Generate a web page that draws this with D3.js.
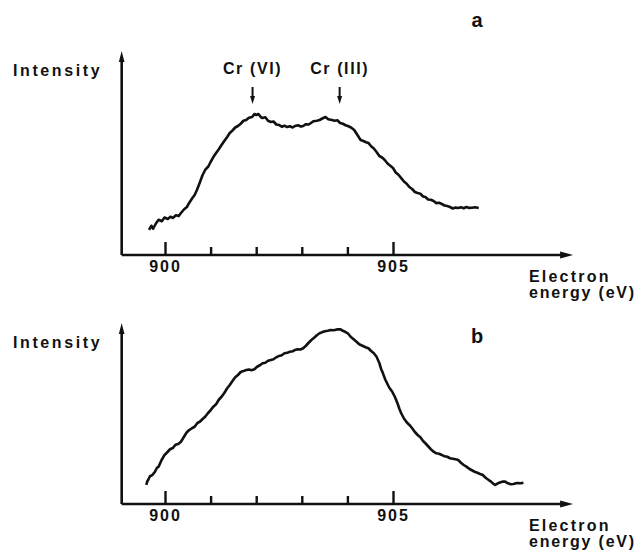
<!DOCTYPE html>
<html>
<head>
<meta charset="utf-8">
<script src="https://cdn.jsdelivr.net/npm/d3@7"></script>
<style>
  body { margin: 0; background: #fff; }
  svg text { font-family: "Liberation Sans", Arial, sans-serif; font-weight: bold; fill: #111; }
</style>
</head>
<body>
<svg width="642" height="555"></svg>
<script>
// spectrum a : Cr L3 edge, mixed Cr(VI)/Cr(III)
var energyA = [899.65,899.70,899.74,899.80,899.86,899.93,899.99,900.06,900.12,900.17,900.24,900.30,900.35,900.42,900.48,900.53,900.60,900.65,900.70,900.76,900.82,900.88,900.95,901.00,901.06,901.12,901.18,901.24,901.30,901.36,901.42,901.48,901.54,901.60,901.66,901.72,901.78,901.84,901.91,901.96,902.00,902.05,902.10,902.14,902.20,902.26,902.32,902.38,902.44,902.50,902.56,902.62,902.68,902.74,902.80,902.85,902.92,902.98,903.03,903.09,903.15,903.20,903.26,903.33,903.39,903.45,903.52,903.58,903.66,903.72,903.78,903.84,903.90,903.96,904.01,904.08,904.15,904.22,904.29,904.35,904.41,904.46,904.52,904.58,904.64,904.70,904.76,904.82,904.88,904.94,905.00,905.06,905.12,905.18,905.24,905.30,905.36,905.42,905.48,905.54,905.60,905.66,905.71,905.77,905.83,905.89,905.95,906.01,906.07,906.13,906.19,906.25,906.31,906.37,906.43,906.49,906.55,906.61,906.67,906.73,906.80,906.88];
var intensityA = [16.7,19.5,17.5,21,23.5,22.5,25,24,25.5,24.7,26.5,26,28,30.5,32,34.7,38,40,43.3,48,53,56.7,59,62,65.3,68,70.5,73.3,76,78.5,81.3,83,85,86,87.5,89.5,90,91.5,92,94,93.3,94,92,91.3,91.8,89.5,88.7,89,87,86.7,85.5,86.2,85.3,85.8,85,86,86.5,85.6,86,87.2,87,88,89.2,89.5,90,91,92,90.5,90,89.5,89.8,88,87.5,86.5,86,85,83.3,80,76.7,76,75.2,74.7,72.5,71,68.7,66,65,63.3,61,59.5,58,55,53.5,51.3,49,47.5,45.3,44,42,41.3,40.8,39,38.7,37,36.8,36,34.6,34.8,34,33,32.6,32,31,31.6,31.3,31.8,31.2,32,31.4,31.5,31.8,31.3];

// spectrum b
var energyB = [899.59,899.61,899.63,899.67,899.72,899.78,899.82,899.86,899.92,899.99,900.05,900.11,900.17,900.23,900.29,900.35,900.41,900.47,900.53,900.59,900.65,900.71,900.77,900.83,900.88,900.94,901.00,901.06,901.12,901.18,901.24,901.30,901.36,901.42,901.48,901.54,901.60,901.66,901.72,901.78,901.84,901.90,901.96,902.02,902.08,902.14,902.20,902.26,902.32,902.38,902.44,902.50,902.56,902.62,902.68,902.74,902.80,902.85,902.91,902.97,903.03,903.09,903.15,903.21,903.27,903.33,903.39,903.45,903.51,903.57,903.63,903.70,903.77,903.84,903.90,903.95,904.01,904.07,904.13,904.20,904.26,904.33,904.40,904.46,904.52,904.58,904.64,904.70,904.74,904.78,904.83,904.87,904.92,904.98,905.04,905.10,905.14,905.18,905.24,905.30,905.36,905.42,905.48,905.54,905.60,905.66,905.71,905.77,905.83,905.89,905.95,906.01,906.07,906.13,906.19,906.25,906.31,906.37,906.43,906.49,906.55,906.61,906.67,906.73,906.79,906.85,906.91,906.97,907.03,907.09,907.15,907.20,907.24,907.30,907.36,907.41,907.46,907.52,907.58,907.64,907.72,907.80,907.86];
var intensityB = [12.7,15,16,18.5,19.3,21.5,24,24.9,29,32.7,34.5,36.5,37.3,39.5,40,41.5,44.5,47.5,49.3,50.5,51.5,54,55,56.8,58.2,60.5,62.5,64.9,66.5,69.5,71.5,74,77,79.3,82,84.5,86,88,88.6,89.3,89.6,89.2,89.8,91.5,92.5,93.8,94.2,95.5,96,96.5,97.8,98.7,99.2,100.5,100.9,101.5,101.8,102.7,103.2,103,103.8,105.5,107.5,109.3,110.8,112.5,113.8,114.6,115.2,115.5,116,115.8,116.4,116.5,115.5,114.8,113.8,111.5,110,108.2,106.5,105.5,104.5,103.8,102,100.5,98.2,94,90,87.1,83,80.5,77.5,75,71.5,67,63.5,60.5,57,54.5,52.7,50.5,48,46,44.5,42,40.5,38.5,36.5,34.9,33.8,33.5,32.7,31.8,31.5,30.5,30.2,29.8,29.3,27.5,26,24.9,23.5,22.5,21.5,20.8,20,19.3,17.5,16.2,14.9,13.5,12.7,13.8,14.5,15,14.9,13.8,13.2,13.3,14,13.8,14.2];

var majorTicks = [900, 905];
var minorTicks = [901, 902, 903, 904];
var peakLabels = ["Cr (VI)", "Cr (III)"];
var peakEnergies = [901.92, 903.83];

var svg = d3.select("svg");

var x = d3.scaleLinear().domain([900, 905]).range([165, 393]);
var xStart = 899.05, xEnd = 908.95;

function drawPanel(axisY, topY, energy, intensity, letter)
{
    var y = d3.scaleLinear().domain([0, 100]).range([axisY, axisY - 150]);
    var g = svg.append("g");

    // axes lines + arrows
    g.append("path")
        .attr("d", "M" + x(xStart) + "," + axisY + "H" + (x(xEnd) - 8))
        .attr("stroke", "#111").attr("stroke-width", 2.6).attr("fill", "none");
    g.append("path")
        .attr("d", "M" + x(xEnd) + "," + axisY + "l-13,-3.5v7z")
        .attr("fill", "#111");
    g.append("path")
        .attr("d", "M" + x(xStart) + "," + axisY + "V" + (topY + 6))
        .attr("stroke", "#111").attr("stroke-width", 2.6).attr("fill", "none");
    g.append("path")
        .attr("d", "M" + x(xStart) + "," + topY + "l-2.8,11h5.6z")
        .attr("fill", "#111");

    // ticks
    var major = g.append("g")
        .attr("transform", "translate(0," + axisY + ")")
        .call(d3.axisBottom(x).tickValues(majorTicks).tickSize(-13).tickPadding(6).tickFormat(d3.format("d")));
    var minor = g.append("g")
        .attr("transform", "translate(0," + axisY + ")")
        .call(d3.axisBottom(x).tickValues(minorTicks).tickSize(-8).tickFormat(""));
    g.selectAll(".domain").remove();
    g.selectAll(".tick line").attr("stroke", "#111").attr("stroke-width", 2.4);
    major.selectAll("text")
        .attr("font-size", 16).attr("font-family", null)
        .style("letter-spacing", "2px").attr("fill", "#111");

    // labels
    g.append("text").attr("x", 13).attr("y", topY + 25)
        .attr("font-size", 16).style("letter-spacing", "2.6px").text("Intensity");
    g.append("text").attr("x", 529).attr("y", axisY + 27)
        .attr("font-size", 16).style("letter-spacing", "2.2px").text("Electron");
    g.append("text").attr("x", 529).attr("y", axisY + 43)
        .attr("font-size", 16).style("letter-spacing", "1.8px").text("energy (eV)");
    g.append("text").attr("x", 477).attr("y", letter == "a" ? 27 : 343)
        .attr("text-anchor", "middle").attr("font-size", 20).text(letter);

    var line = d3.line()
        .x(function(d, i) { return x(energy[i]); })
        .y(function(d, i) { return y(intensity[i]); });
    g.append("path")
        .datum(energy)
        .attr("d", line)
        .attr("fill", "none").attr("stroke", "#111")
        .attr("stroke-width", 2.6).attr("stroke-linejoin", "round");
    return y;
}

drawPanel(255, 51, energyA, intensityA, "a");
drawPanel(504, 323, energyB, intensityB, "b");

// peak markers on spectrum a
var marks = svg.append("g").selectAll("g.peak")
    .data(peakLabels)
    .enter().append("g")
    .attr("class", "peak")
    .attr("transform", function(d, i) { return "translate(" + x(peakEnergies[i]) + ",0)"; });
marks.append("text")
    .attr("y", 74).attr("text-anchor", "middle")
    .attr("font-size", 16).style("letter-spacing", "1.6px")
    .text(function(d) { return d; });
marks.append("path")
    .attr("d", "M0,87V98").attr("stroke", "#111").attr("stroke-width", 2);
marks.append("path")
    .attr("d", "M0,104l-2.5,-8h5z").attr("fill", "#111");
</script>
</body>
</html>
